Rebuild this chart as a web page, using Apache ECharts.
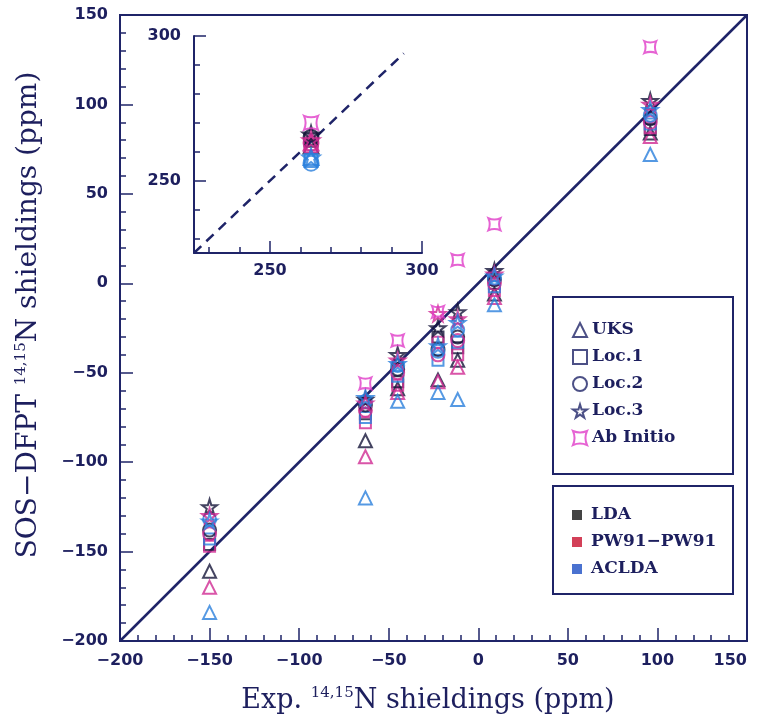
<!DOCTYPE html>
<html><head><meta charset="utf-8">
<script src="https://cdn.jsdelivr.net/npm/echarts@6/dist/echarts.min.js"></script>
<style>html,body{margin:0;padding:0;background:#fff}#c{width:758px;height:716px}</style>
</head><body><div id="c"></div>
<script>
// Experimental shieldings (x); last entry is the point shown in the inset
const expValues = [-150, -63, -45, -22.5, -11.5, 9, 96, 263.5];
// Calculated SOS-DFPT shieldings
const uksLDA    = [-161, -88, -59, -54, -43, -6, 84, 262];
const uksPW91   = [-170, -97, -61, -55, -47, -8, 82, 263];
const uksACLDA  = [-184, -120, -66, -61, -65, -12, 72, 258];
const loc1LDA   = [-146, -73, -55, -30, -36, 0, 86, 264];
const loc1PW91  = [-147, -78, -57, -33, -40, -4, 87, 262];
const loc1ACLDA = [-143, -75, -52, -43, -33, -2, 89, 257];
const loc2LDA   = [-138, -68, -48, -37, -30, 2, 92, 265];
const loc2PW91  = [-140, -71, -50, -40, -32, 0, 90, 263];
const loc2ACLDA = [-132, -66, -46, -38, -26, 3, 94, 256];
const loc3LDA   = [-125, -65, -40, -25, -16, 7, 102, 266];
const loc3PW91  = [-130, -67, -43, -17, -20, 5, 100, 264];
const loc3ACLDA = [-133, -64, -45, -35, -22, 4, 97, 258];
const abInitio  = [null, -56, -32, -16, 13, 33, 132, 270];
// Diagonal (y = x) end points
const diagMain  = [-200, 150];
const diagInset = [225, 294];
// Axis ranges / ticks
const mainRange = [-200, 150];
const insetRange = [225, 300];
const insetMajor = [250, 300];
const insetMinor = [230, 240, 260, 270, 280, 290];
const methodNames = ['UKS', 'Loc.1', 'Loc.2', 'Loc.3', 'Ab Initio'];
const funcNames = ['LDA', 'PW91\u2212PW91', 'ACLDA'];

const NAVY = '#1f2468';
const TXT = '#1d1f5e';
const C_LDA = '#15153a';
const C_PW = '#cf2a92';
const C_AC = '#2a80dc';
const C_AB = '#e03cc8';
const LEG_LDA = '#151515', LEG_PW = '#c8102e', LEG_AC = '#1d4fc4';
const STAR = 'path://M50,0 L61,35 L98,35 L68,57 L79,91 L50,70 L21,91 L32,57 L2,35 L39,35 Z';
const ABI = 'path://M0,0 Q50,22 100,0 Q78,50 100,100 Q50,78 0,100 Q22,50 0,0 Z';
const shapes = {UKS: ['triangle', 13], 'Loc.1': ['rect', 11], 'Loc.2': ['circle', 13], 'Loc.3': [STAR, 15], 'Ab Initio': [ABI, 12]};

const groups = [
  ['UKS', C_LDA, uksLDA], ['UKS', C_PW, uksPW91], ['UKS', C_AC, uksACLDA],
  ['Loc.1', C_LDA, loc1LDA], ['Loc.1', C_PW, loc1PW91], ['Loc.1', C_AC, loc1ACLDA],
  ['Loc.2', C_LDA, loc2LDA], ['Loc.2', C_PW, loc2PW91], ['Loc.2', C_AC, loc2ACLDA],
  ['Loc.3', C_LDA, loc3LDA], ['Loc.3', C_PW, loc3PW91], ['Loc.3', C_AC, loc3ACLDA],
  ['Ab Initio', C_AB, abInitio]
];

const series = [];
groups.forEach((g, k) => {
  const [m, col, arr] = g;
  const [sym, size] = shapes[m];
  const mainData = [];
  for (let i = 0; i < 7; i++) if (arr[i] !== null) mainData.push([expValues[i], arr[i]]);
  const insetData = arr[7] !== null ? [[expValues[7], arr[7]]] : [];
  const base = {type: 'scatter', symbol: sym, silent: true,
    itemStyle: {color: 'rgba(0,0,0,0)', borderColor: col, borderWidth: 2}};
  series.push(Object.assign({}, base, {name: m + ' ' + k, xAxisIndex: 0, yAxisIndex: 0, symbolSize: size, data: mainData, z: 3 + k * 0.01}));
  series.push(Object.assign({}, base, {name: m + ' i' + k, xAxisIndex: 1, yAxisIndex: 1, symbolSize: size + 2, data: insetData, z: 3 + k * 0.01}));
});
series.push({type: 'line', name: 'diag', xAxisIndex: 0, yAxisIndex: 0, symbol: 'none', silent: true,
  data: [[diagMain[0], diagMain[0]], [diagMain[1], diagMain[1]]], lineStyle: {color: NAVY, width: 2.5}, z: 2});
series.push({type: 'line', name: 'diagi', xAxisIndex: 1, yAxisIndex: 1, symbol: 'none', silent: true,
  data: [[diagInset[0], diagInset[0]], [diagInset[1], diagInset[1]]], lineStyle: {color: NAVY, width: 2.5, type: [10, 7]}, z: 2});
// dummy series for legends
methodNames.concat(funcNames).forEach(n => series.push({type: 'scatter', name: n, data: [], xAxisIndex: 0, yAxisIndex: 0}));

const minus = v => String(v).replace('-', '\u2212');
const tickLbl = {fontFamily: 'DejaVu Sans', fontWeight: 'bold', fontSize: 16, color: TXT};
function titleStyle(size, pad) {
  return {fontFamily: 'DejaVu Serif', fontSize: size, color: TXT, padding: pad,
    rich: {sup: {fontFamily: 'DejaVu Serif', fontSize: 15, color: TXT, verticalAlign: 'top', lineHeight: 30}}};
}

function mainAxis(isX) {
  return {
    type: 'value', gridIndex: 0, min: mainRange[0], max: mainRange[1], interval: 50,
    position: isX ? 'bottom' : 'left',
    name: isX ? 'Exp. {sup|14,15}N shieldings (ppm)' : 'SOS\u2212DFPT {sup|14,15}N shieldings (ppm)',
    nameLocation: 'middle', nameGap: isX ? 45 : 76,
    nameTextStyle: isX ? titleStyle(27, [0, 11, 0, 0]) : titleStyle(28, [0, 0, 0, 26]),
    axisLine: {show: true, onZero: false, lineStyle: {color: NAVY, width: 2}},
    axisTick: {show: true, inside: true, length: 13, lineStyle: {color: NAVY, width: 1.5}},
    minorTick: {show: true, splitNumber: 5, length: 6, lineStyle: {color: NAVY, width: 1.5}},
    axisLabel: Object.assign({formatter: minus, margin: 12}, isX ? {alignMaxLabel: 'right'} : {}, tickLbl),
    splitLine: {show: false}
  };
}
function insetAxes(isX) {
  const pos = isX ? 'bottom' : 'left';
  return [{
    type: 'value', gridIndex: 1, min: insetRange[0], max: insetRange[1], position: pos,
    axisLine: {show: true, onZero: false, lineStyle: {color: NAVY, width: 2}},
    axisTick: {show: true, inside: true, length: 12, customValues: insetMajor, lineStyle: {color: NAVY, width: 1.5}},
    axisLabel: Object.assign({customValues: insetMajor, margin: isX ? 10 : 13}, tickLbl),
    splitLine: {show: false}
  }, {
    type: 'value', gridIndex: 1, min: insetRange[0], max: insetRange[1], position: pos,
    axisLine: {show: false, onZero: false},
    axisTick: {show: true, inside: true, length: 6, customValues: insetMinor, lineStyle: {color: NAVY, width: 1.5}},
    axisLabel: {show: false}, splitLine: {show: false}
  }];
}
const ix = insetAxes(true), iy = insetAxes(false);

const legText = {fontFamily: 'DejaVu Serif', fontWeight: 'bold', fontSize: 17, color: TXT, lineHeight: 20};
const option = {
  animation: false,
  backgroundColor: '#fff',
  grid: [
    {left: 120, top: 15, width: 627, height: 626, show: true, borderColor: NAVY, borderWidth: 2,
     backgroundColor: 'transparent', outerBoundsMode: 'none', containLabel: false},
    {left: 194, top: 36, width: 228, height: 217, outerBoundsMode: 'none', containLabel: false}
  ],
  xAxis: [mainAxis(true), ix[0], ix[1]],
  yAxis: [mainAxis(false), iy[0], iy[1]],
  legend: [{
    orient: 'vertical', left: 572, top: 320, itemWidth: 14, itemHeight: 14, itemGap: 7, selectedMode: false,
    textStyle: legText, padding: 0,
    data: methodNames.map(n => ({name: n, icon: shapes[n][0],
      itemStyle: {color: 'rgba(0,0,0,0)', borderColor: n === 'Ab Initio' ? C_AB : NAVY, borderWidth: 2}}))
  }, {
    orient: 'vertical', left: 572, top: 505, itemWidth: 10, itemHeight: 10, itemGap: 7, selectedMode: false,
    textStyle: Object.assign({}, legText, {padding: [0, 0, 0, 4]}), padding: 0,
    data: funcNames.map((n, i) => ({name: n, icon: 'rect',
      itemStyle: {color: [LEG_LDA, LEG_PW, LEG_AC][i], borderWidth: 0}}))
  }],
  graphic: [
    {type: 'rect', shape: {x: 553, y: 297, width: 180, height: 177}, style: {fill: 'none', stroke: NAVY, lineWidth: 2}, z: 10},
    {type: 'rect', shape: {x: 553, y: 486, width: 180, height: 108}, style: {fill: 'none', stroke: NAVY, lineWidth: 2}, z: 10}
  ],
  series: series
};
echarts.init(document.getElementById('c'), null, {renderer: 'canvas'}).setOption(option);
</script></body></html>
